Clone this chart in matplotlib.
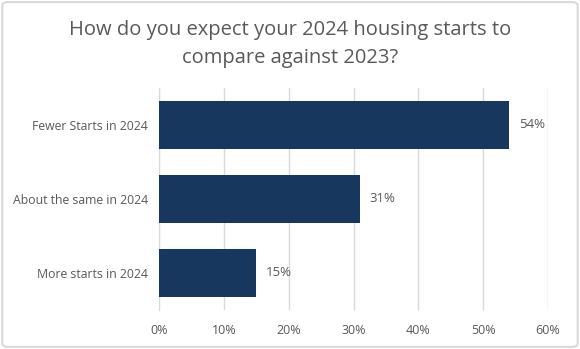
import matplotlib.pyplot as plt
from matplotlib.patches import FancyBboxPatch
from matplotlib.ticker import FuncFormatter

categories = ["Fewer Starts in 2024", "About the same in 2024", "More starts in 2024"]
values = [54, 31, 15]
xticks = [0, 10, 20, 30, 40, 50, 60]

BAR = "#17375E"
TXT = "#595959"
GRID = "#D9D9D9"

plt.rcParams["font.family"] = ["Open Sans", "DejaVu Sans"]

fig = plt.figure(figsize=(5.8, 3.49), dpi=100)
fig.patch.set_facecolor("white")
ax = fig.add_axes([0.274, 0.112, 0.671, 0.636])

y = list(range(len(categories)))
ax.barh(y, values, height=0.66, color=BAR, zorder=3)
ax.set_yticks(y)
ax.set_yticklabels(categories, fontsize=8.8, color=TXT)
ax.set_ylim(2.5, -0.5)

ax.set_xlim(0, 60)
ax.set_xticks(xticks)
ax.xaxis.set_major_formatter(FuncFormatter(lambda v, _: f"{v:.0f}%"))
ax.tick_params(axis="x", labelsize=9, colors=TXT, length=0, pad=10)
ax.tick_params(axis="y", length=0, pad=8)
ax.grid(axis="x", color=GRID, lw=1, zorder=0)

for s in ["top", "right", "bottom"]:
    ax.spines[s].set_visible(False)
ax.spines["left"].set_color(GRID)

for yi, v in zip(y, values):
    ax.text(v + 1.5, yi, f"{v}%", va="center", ha="left", fontsize=9.5, color=TXT)

fig.text(0.5, 0.875, "How do you expect your 2024 housing starts to\ncompare against 2023?",
         ha="center", va="center", fontsize=14.5, color=TXT, linespacing=1.55)

border = FancyBboxPatch((0.004, 0.006), 0.992, 0.988, boxstyle="round,pad=0,rounding_size=0.01",
                        transform=fig.transFigure, fill=False, edgecolor=GRID, lw=1.5)
fig.patches.append(border)

fig.savefig("out.png", dpi=100)
